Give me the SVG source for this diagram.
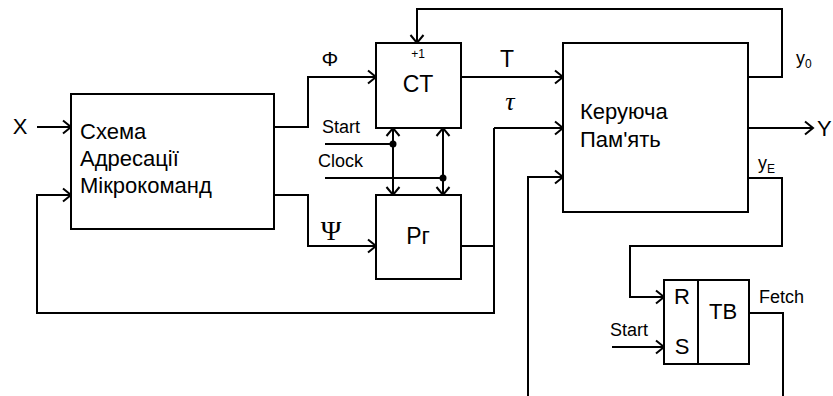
<svg xmlns="http://www.w3.org/2000/svg" width="833" height="396" viewBox="0 0 833 396">
<style>
.box{fill:#fff;stroke:#000;stroke-width:2}
.w{fill:none;stroke:#000;stroke-width:2}
.a{marker-end:url(#arr)}
.t{font-family:"Liberation Sans",Arial,sans-serif;fill:#000}
.s{font-family:"Liberation Serif","Times New Roman",serif;fill:#000}
</style>
<defs>
<marker id="arr" viewBox="-10 -8 12 16" refX="0" refY="0" markerWidth="12" markerHeight="16" markerUnits="userSpaceOnUse" orient="auto-start-reverse">
<path d="M-8,-6.5 L0,0 L-8,6.5" fill="none" stroke="#000" stroke-width="2"/>
</marker>
</defs>
<rect width="833" height="396" fill="#fff"/>
<g id="connectors">
<path class="w a" d="M37,127 H71"/>
<path class="w a" d="M494,128 V313 H37 V195 H71"/>
<path class="w" d="M461,246 H494"/>
<path class="w a" d="M494,128 H563"/>
<path class="w a" d="M274,127 H308 V77 H376"/>
<path class="w a" d="M274,195 H308 V246 H376"/>
<path class="w a" d="M461,77 H563"/>
<path class="w a" d="M748,77 H782 V9 H417 V43"/>
<path class="w a" d="M528,396 V177 H563"/>
<path class="w a" d="M748,128 H813"/>
<path class="w a" d="M748,178 H782 V246 H630 V297 H664"/>
<path class="w" d="M749,313 H783 V396"/>
<path class="w a" d="M612,347 H664"/>
<path class="w" d="M325,144 H393"/>
<path class="w" d="M325,178 H443"/>
<path class="w a" style="marker-start:url(#arr)" d="M393,128 V195"/>
<path class="w a" style="marker-start:url(#arr)" d="M443,128 V195"/>
<circle cx="393" cy="144" r="3.5" fill="#000"/>
<circle cx="443" cy="178" r="3.5" fill="#000"/>
</g>
<g id="sam">
<rect class="box" x="71" y="94" width="203" height="135"/>
<text class="t" x="80" y="139" font-size="22">Схема</text>
<text class="t" x="80" y="166" font-size="22">Адресації</text>
<text class="t" x="80" y="193" font-size="22">Мікрокоманд</text>
</g>
<g id="ct">
<rect class="box" x="376" y="43" width="85" height="85"/>
<text class="t" x="418" y="58" font-size="12" text-anchor="middle">+1</text>
<text class="t" x="418" y="92" font-size="23" text-anchor="middle">CT</text>
</g>
<g id="rg">
<rect class="box" x="376" y="195" width="85" height="84"/>
<text class="t" x="418" y="244" font-size="23" text-anchor="middle">Рг</text>
</g>
<g id="kp">
<rect class="box" x="563" y="43" width="185" height="169"/>
<text class="t" x="580" y="119" font-size="22">Керуюча</text>
<text class="t" x="580" y="147" font-size="22">Пам'ять</text>
</g>
<g id="tb">
<rect class="box" x="664" y="280" width="85" height="84"/>
<path class="w" d="M698,280 V364"/>
<text class="t" x="682" y="304" font-size="22" text-anchor="middle">R</text>
<text class="t" x="682" y="354" font-size="22" text-anchor="middle">S</text>
<text class="t" x="723" y="319" font-size="22" text-anchor="middle">TB</text>
</g>
<g id="labels">
<text class="t" x="20" y="134" font-size="22" text-anchor="middle">X</text>
<text class="t" x="330" y="66" font-size="21" text-anchor="middle">Φ</text>
<text class="s" x="331" y="240" font-size="28" text-anchor="middle">Ψ</text>
<text class="t" x="507" y="67" font-size="23" text-anchor="middle">T</text>
<text class="s" x="510" y="110" font-size="26" font-style="italic" text-anchor="middle">τ</text>
<text class="t" x="322" y="133" font-size="18">Start</text>
<text class="t" x="318" y="167" font-size="18">Clock</text>
<text class="t" x="610" y="336" font-size="18">Start</text>
<text class="t" x="759" y="303" font-size="18">Fetch</text>
<text class="t" x="796" y="64" font-size="18">y<tspan font-size="12" dy="4">0</tspan></text>
<text class="t" x="758" y="169" font-size="18">y<tspan font-size="12" dy="4">E</tspan></text>
<text class="t" x="817" y="136" font-size="22">Y</text>
</g>
</svg>
